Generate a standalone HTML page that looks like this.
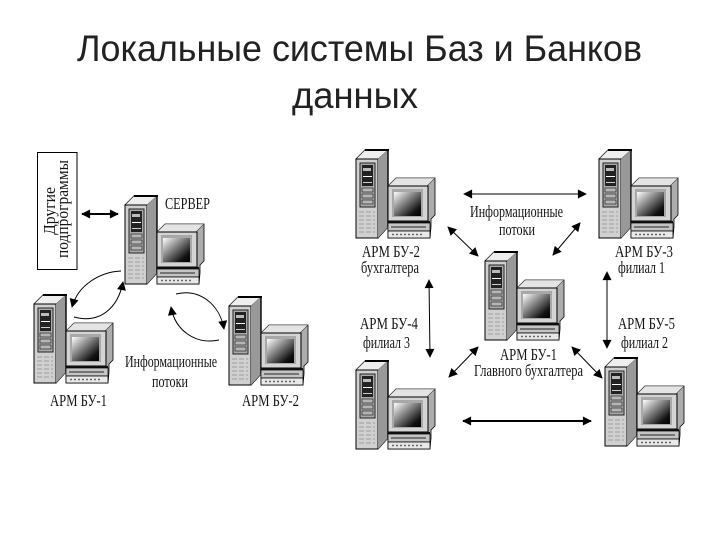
<!DOCTYPE html>
<html><head><meta charset="utf-8">
<style>html,body{margin:0;padding:0;background:#fff}svg{display:block}
.t{font-family:"Liberation Sans",sans-serif;font-size:37px;fill:#222}
.s{font-family:"Liberation Serif",serif;font-size:17px;fill:#151515}</style></head>
<body>
<svg width="720" height="540" viewBox="0 0 720 540" xmlns="http://www.w3.org/2000/svg">
<defs>
<linearGradient id="g" x1="0" y1="0" x2="1" y2="1"><stop offset="0" stop-color="#fff"/><stop offset=".4" stop-color="#888"/><stop offset=".8" stop-color="#111"/><stop offset="1" stop-color="#000"/></linearGradient>
<marker id="a" viewBox="0 0 10 10" refX="9" refY="5" markerWidth="11" markerHeight="9" markerUnits="userSpaceOnUse" orient="auto-start-reverse"><path d="M0 0L10 5L0 10Z" fill="#000"/></marker>
<g id="pc">
<path d="M0 10L9 1H32V78L22 89H0Z" fill="#b5b5b5" stroke="#000" stroke-width="1"/>
<path d="M9 1H32L22 10H0Z" fill="#eee" stroke="#444" stroke-width=".6"/>
<path d="M0 10H22V89H0Z" fill="#d0d0d0" stroke="#000" stroke-width="1"/>
<path d="M22 10L32 1V78L22 89Z" fill="#999"/>
<path d="M9 0H33V2H9Z" fill="#000"/>
<path d="M32 1V78" stroke="#000" stroke-width="1.4"/>
<rect x="4" y="14" width="15" height="44" fill="#aaa" stroke="#222" stroke-width="1"/>
<rect x="6" y="16" width="11" height="21" fill="#222"/>
<rect x="7" y="19" width="8" height="3" fill="#bbb"/>
<rect x="7" y="27" width="9" height="1" fill="#fff"/>
<rect x="7" y="33" width="9" height="1" fill="#ccc"/>
<rect x="6" y="39" width="11" height="4" fill="#b5b5b5" stroke="#111" stroke-width=".6"/>
<rect x="6" y="45" width="11" height="4" fill="#b5b5b5" stroke="#111" stroke-width=".6"/>
<rect x="6" y="51" width="11" height="4" fill="#b5b5b5" stroke="#111" stroke-width=".6"/>
<path d="M3 63H19M3 67H19M3 71H19M3 75H19M3 79H19M3 83H19" stroke="#a8a8a8" stroke-width="1.2" stroke-dasharray="5 2"/>
<path d="M32 37L40 29H79V66L75 70V78L74 89H32Z" fill="#adadad" stroke="#000" stroke-width=".8"/>
<path d="M32 37L40 29H79L71 37Z" fill="#e4e4e4" stroke="#444" stroke-width=".6"/>
<rect x="32" y="37" width="40" height="35" fill="#d4d4d4" stroke="#000" stroke-width="1"/>
<rect x="36" y="40" width="31" height="28" fill="#a8a8a8"/>
<rect x="38" y="43" width="27" height="24" fill="url(#g)"/>
<rect x="32" y="72" width="42" height="2" fill="#111"/>
<rect x="32" y="74" width="42" height="8" fill="#c4c4c4" stroke="#000" stroke-width=".7"/>
<path d="M35 78H70" stroke="#444" stroke-width="1.2"/>
<rect x="32" y="82" width="42" height="7" fill="#e8e8e8" stroke="#000" stroke-width=".8"/>
<path d="M36 85.500H68" stroke="#666" stroke-width="1.500" stroke-dasharray="2 2"/>
</g>
</defs>
<rect width="720" height="540" fill="#fff"/>
<text class="t" x="77" y="61" textLength="565" lengthAdjust="spacingAndGlyphs">Локальные системы Баз и Банков</text>
<text class="t" x="292" y="108" textLength="126" lengthAdjust="spacingAndGlyphs">данных</text>

<rect x="37.500" y="152.500" width="39.500" height="117" fill="#fff" stroke="#000"/>
<text class="s" transform="translate(55,235) rotate(-90)" textLength="48" lengthAdjust="spacingAndGlyphs">Другие</text>
<text class="s" transform="translate(68,258) rotate(-90)" textLength="98" lengthAdjust="spacingAndGlyphs">подпрограммы</text>

<use href="#pc" x="125" y="195"/>
<use href="#pc" x="34" y="294"/>
<use href="#pc" x="229" y="296"/>
<use href="#pc" x="356" y="149"/>
<use href="#pc" x="599" y="149"/>
<use href="#pc" x="485" y="251"/>
<use href="#pc" x="356" y="360"/>
<use href="#pc" x="605" y="357"/>

<g fill="none" stroke="#000" stroke-width="1">
<path d="M82 214H118" stroke-width="2" marker-start="url(#a)" marker-end="url(#a)"/>
<path d="M121 271C100 272 78 285 72 307" marker-end="url(#a)"/>
<path d="M74 317C100 324 118 308 123 282" marker-end="url(#a)"/>
<path d="M176 294C200 288 220 305 224 329" marker-end="url(#a)"/>
<path d="M219 340C195 345 175 330 171 307" marker-end="url(#a)"/>
<path d="M464 194H586" marker-start="url(#a)" marker-end="url(#a)"/>
<path d="M448 227L478 256" marker-start="url(#a)" marker-end="url(#a)"/>
<path d="M580 223L553 255" marker-start="url(#a)" marker-end="url(#a)"/>
<path d="M429 280L430 357" marker-start="url(#a)" marker-end="url(#a)"/>
<path d="M607 272V348" marker-start="url(#a)" marker-end="url(#a)"/>
<path d="M478 347L449 377" marker-start="url(#a)" marker-end="url(#a)"/>
<path d="M572 347L602 378" marker-start="url(#a)" marker-end="url(#a)"/>
<path d="M463 421H591" stroke-width="2" marker-start="url(#a)" marker-end="url(#a)"/>
</g>

<g>
<text class="s" x="165" y="209" textLength="45" lengthAdjust="spacingAndGlyphs">СЕРВЕР</text>
<text class="s" x="125" y="367" textLength="92" lengthAdjust="spacingAndGlyphs">Информационные</text>
<text class="s" x="152" y="387" textLength="36" lengthAdjust="spacingAndGlyphs">потоки</text>
<text class="s" x="50" y="406" textLength="57" lengthAdjust="spacingAndGlyphs">АРМ БУ-1</text>
<text class="s" x="242" y="406" textLength="57" lengthAdjust="spacingAndGlyphs">АРМ БУ-2</text>
<text class="s" x="470" y="217" textLength="93" lengthAdjust="spacingAndGlyphs">Информационные</text>
<text class="s" x="499" y="235" textLength="36" lengthAdjust="spacingAndGlyphs">потоки</text>
<text class="s" x="362" y="257" textLength="58" lengthAdjust="spacingAndGlyphs">АРМ БУ-2</text>
<text class="s" x="361" y="273" textLength="58" lengthAdjust="spacingAndGlyphs">бухгалтера</text>
<text class="s" x="615" y="257" textLength="58" lengthAdjust="spacingAndGlyphs">АРМ БУ-3</text>
<text class="s" x="618" y="273" textLength="47" lengthAdjust="spacingAndGlyphs">филиал 1</text>
<text class="s" x="360" y="329" textLength="58" lengthAdjust="spacingAndGlyphs">АРМ БУ-4</text>
<text class="s" x="363" y="348" textLength="47" lengthAdjust="spacingAndGlyphs">филиал 3</text>
<text class="s" x="618" y="329" textLength="57" lengthAdjust="spacingAndGlyphs">АРМ БУ-5</text>
<text class="s" x="621" y="348" textLength="47" lengthAdjust="spacingAndGlyphs">филиал 2</text>
<text class="s" x="500" y="360" textLength="57" lengthAdjust="spacingAndGlyphs">АРМ БУ-1</text>
<text class="s" x="474" y="376" textLength="109" lengthAdjust="spacingAndGlyphs">Главного бухгалтера</text>
</g>
</svg>
</body></html>
